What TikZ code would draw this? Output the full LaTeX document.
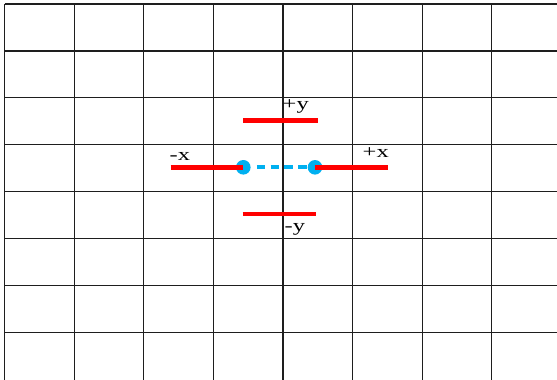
\documentclass[tikz,border=0pt]{standalone}
\usepackage{fontspec}
\setmainfont{Liberation Serif}
\definecolor{dotblue}{RGB}{0,176,240}
\definecolor{gridc}{RGB}{30,30,30}
\tikzset{
  gridline/.style={draw=gridc, line width=1.2pt},
  redbar/.style={draw=red, line width=4.5pt},
  bluedot/.style={circle, fill=dotblue, inner sep=0pt, minimum size=14.6pt},
  bluedash/.style={draw=dotblue, line width=4pt, dash pattern=on 8.3pt off 5.5pt, shorten <=6pt, shorten >=1pt},
  lbl/.style={inner sep=0pt, font=\fontsize{17.5}{19}\selectfont, text=black}
}
\newcommand{\wlbl}[1]{\scalebox{1.4}[1]{#1}}
\begin{document}
\begin{tikzpicture}[x=1pt,y=-1pt]
\useasboundingbox (0,0) rectangle (557,380);
\fill[white] (0,0) rectangle (557,380);
% grid
\foreach \i in {0,...,7}{
  \draw[gridline] ({4.7+69.57*\i},4) -- ({4.7+69.57*\i},380);
}
\foreach \j in {0,...,7}{
  \draw[gridline] (4.7,{4+46.9*\j}) -- (557,{4+46.9*\j});
}
% dots
\node[bluedot] (dl) at (243.3,167.3) {};
\node[bluedot] (dr) at (315,167.3) {};
\draw[bluedash] (dl.east) -- (dr.west);
% red bars
\coordinate (xl) at (170.7,167.3);
\coordinate (xr) at (388.3,167.3);
\coordinate (yta) at (243.3,120.7);
\coordinate (ytb) at (317.7,120.7);
\coordinate (yba) at (242.7,214);
\coordinate (ybb) at (316,214);
\draw[redbar] (xl) -- (dl.center);
\draw[redbar] (dr.center) -- (xr);
\draw[redbar] (yta) -- (ytb);
\draw[redbar] (yba) -- (ybb);
% labels
\node[lbl, anchor=base west] (lpy) at (282.5,109) {\wlbl{+y}};
\node[lbl, anchor=base west] (lmx) at (169.5,160) {\wlbl{-x}};
\node[lbl, anchor=base west] (lpx) at (362.5,157.7) {\wlbl{+x}};
\node[lbl, anchor=base west] (lmy) at (284.5,231) {\wlbl{-y}};
\end{tikzpicture}
\end{document}
